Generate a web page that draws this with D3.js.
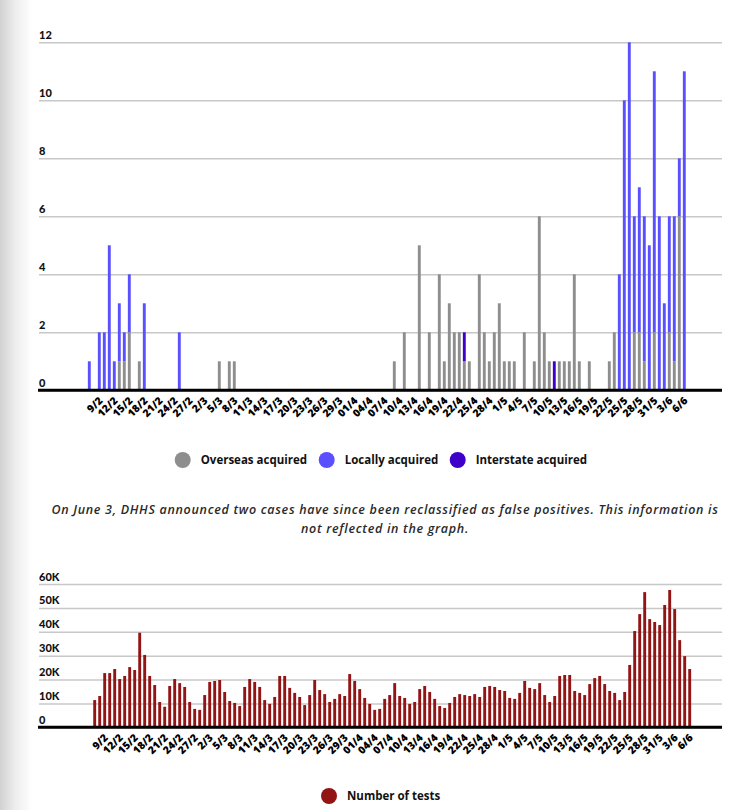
<!DOCTYPE html>
<html>
<head>
<meta charset="utf-8">
<script src="https://cdn.jsdelivr.net/npm/d3@7/dist/d3.min.js"></script>
<style>
  html, body { margin: 0; padding: 0; background: #fff; }
  svg { display: block; }
</style>
</head>
<body>
<svg id="chart" width="733" height="810"></svg>
<script>
const dates = [
  "7/2","8/2","9/2","10/2","11/2","12/2","13/2","14/2","15/2","16/2","17/2","18/2","19/2","20/2","21/2","22/2","23/2","24/2","25/2","26/2","27/2","28/2",
  "1/3","2/3","3/3","4/3","5/3","6/3","7/3","8/3","9/3","10/3","11/3","12/3","13/3","14/3","15/3","16/3","17/3","18/3","19/3","20/3","21/3","22/3","23/3","24/3","25/3","26/3","27/3","28/3","29/3","30/3","31/3",
  "01/4","02/4","03/4","04/4","05/4","06/4","07/4","08/4","09/4","10/4","11/4","12/4","13/4","14/4","15/4","16/4","17/4","18/4","19/4","20/4","21/4","22/4","23/4","24/4","25/4","26/4","27/4","28/4","29/4","30/4",
  "1/5","2/5","3/5","4/5","5/5","6/5","7/5","8/5","9/5","10/5","11/5","12/5","13/5","14/5","15/5","16/5","17/5","18/5","19/5","20/5","21/5","22/5","23/5","24/5","25/5","26/5","27/5","28/5","29/5","30/5","31/5",
  "1/6","2/6","3/6","4/6","5/6","6/6"
];

// cases by day (index aligned with dates)
const overseas = [
  0,0,0,0,0,0,1,1,2,0,1,0,0,0,0,0,0,0,0,0,0,0,
  0,0,0,0,1,0,1,1,0,0,0,0,0,0,0,0,0,0,0,0,0,0,0,0,0,0,0,0,0,0,0,
  0,0,0,0,0,0,0,0,1,0,2,0,0,5,0,2,0,4,1,3,2,2,1,1,0,4,2,1,2,3,
  1,1,1,0,2,0,1,6,2,1,0,1,1,1,4,1,0,1,0,0,0,1,2,0,0,0,2,2,1,0,2,
  0,0,2,1,6,0
];
const locally = [
  1,0,2,2,5,1,2,1,2,0,0,3,0,0,0,0,0,0,2,0,0,0,
  0,0,0,0,0,0,0,0,0,0,0,0,0,0,0,0,0,0,0,0,0,0,0,0,0,0,0,0,0,0,0,
  0,0,0,0,0,0,0,0,0,0,0,0,0,0,0,0,0,0,0,0,0,0,0,0,0,0,0,0,0,0,
  0,0,0,0,0,0,0,0,0,0,0,0,0,0,0,0,0,0,0,0,0,0,0,4,10,12,4,5,5,5,9,
  6,3,4,5,2,11
];
const interstate = [
  0,0,0,0,0,0,0,0,0,0,0,0,0,0,0,0,0,0,0,0,0,0,
  0,0,0,0,0,0,0,0,0,0,0,0,0,0,0,0,0,0,0,0,0,0,0,0,0,0,0,0,0,0,0,
  0,0,0,0,0,0,0,0,0,0,0,0,0,0,0,0,0,0,0,0,0,0,1,0,0,0,0,0,0,0,
  0,0,0,0,0,0,0,0,0,0,1,0,0,0,0,0,0,0,0,0,0,0,0,0,0,0,0,0,0,0,0,
  0,0,0,0,0,0
];
// number of tests by day
const tests = [
  11400,13100,22700,22700,24400,20200,21500,25200,24000,39600,30300,21500,17700,10600,8600,17300,20200,18500,16900,10600,7700,7300,
  13500,19000,19400,19800,14800,11000,10200,8900,16900,20200,19000,16900,11400,9800,12700,21500,21500,16500,14400,12700,9300,13500,19800,15600,13900,10600,11900,13900,13100,22300,19400,
  16000,12300,9800,7300,7700,11900,13500,18500,13100,12300,9800,10600,16000,17300,14800,11900,8900,8100,10200,12700,13900,13500,13100,13900,12700,16900,17300,16900,15600,15200,
  12300,11900,14400,19400,16500,16000,18500,13500,10600,13100,21500,21900,21900,15200,14400,13500,18100,20600,21500,18100,15200,14400,11400,14800,26100,40300,47400,56600,45300,
  44100,42800,51200,57500,49500,36500,29800,24400
];

const caseTicks = [0, 2, 4, 6, 8, 10, 12];
const testTicks = [0, 10000, 20000, 30000, 40000, 50000, 60000];
const testTickLabels = ["0", "10K", "20K", "30K", "40K", "50K", "60K"];
const seriesNames = ["Overseas acquired", "Locally acquired", "Interstate acquired"];
const seriesColors = ["#8e8e8e", "#5b50ff", "#3f00c9"];
const testsName = "Number of tests";
const testsColor = "#921414";
const note = [
  "On June 3, DHHS announced two cases have since been reclassified as false positives. This information is",
  "not reflected in the graph."
];

const OPEN = "'Open Sans', sans-serif";
const LATO = "Lato, sans-serif";
const svg = d3.select("#chart");

// left page shading
const defs = svg.append("defs");
const grad = defs.append("linearGradient").attr("id", "shade").attr("x1", "0").attr("x2", "1").attr("y1", "0").attr("y2", "0");
grad.append("stop").attr("offset", "0").attr("stop-color", "#d2d2d2");
grad.append("stop").attr("offset", "0.5").attr("stop-color", "#eeeeee");
grad.append("stop").attr("offset", "1").attr("stop-color", "#ffffff");
svg.append("rect").attr("x", 0).attr("y", 0).attr("width", 32).attr("height", 810).attr("fill", "url(#shade)");

const tickEvery = 3, tickStart = 2;
const tickDates = dates.filter((d, i) => i >= tickStart && (i - tickStart) % tickEvery === 0);

function drawPanel(cfg) {
  const g = svg.append("g");
  const x = d3.scaleBand().domain(dates).range(cfg.xRange).paddingInner(0.42).paddingOuter(0.21);
  const y = d3.scaleLinear().domain(cfg.yDomain).range(cfg.yRange);

  // grid
  const yAxis = d3.axisLeft(y).tickValues(cfg.yTicks).tickSize(-(722 - 39)).tickFormat("");
  const ga = g.append("g").attr("transform", "translate(39,0)").call(yAxis);
  ga.select(".domain").remove();
  ga.selectAll(".tick line").attr("stroke", "#c8c8c8").attr("stroke-width", 1.5);
  // y labels above gridlines
  g.selectAll(".ylab").data(cfg.yTicks).join("text")
    .attr("x", 39).attr("y", d => y(d) - 3.5)
    .style("font-family", LATO)
    .attr("font-size", 11).attr("font-weight", 900).attr("fill", "#111")
    .text((d, i) => cfg.yLabels[i]);

  cfg.drawBars(g, x, y);

  // x axis
  g.append("line").attr("x1", 38).attr("x2", 722).attr("y1", y(0)).attr("y2", y(0))
    .attr("stroke", "#000").attr("stroke-width", 3);
  const xAxis = d3.axisBottom(x).tickValues(tickDates).tickSize(0).tickPadding(0);
  const gx = g.append("g").attr("transform", `translate(0,${y(0)})`).call(xAxis);
  gx.attr("font-family", null).attr("font-size", null);
  gx.select(".domain").remove();
  gx.selectAll(".tick text")
    .style("font-family", OPEN)
    .style("font-size", "10.5px").style("font-weight", 800).attr("fill", "#000")
    .attr("text-anchor", "end")
    .attr("dy", null).attr("y", 0)
    .attr("transform", `translate(4,${cfg.labelDy}) rotate(-45)`);
}

// top: cases
const caseRows = dates.map((d, i) => ({ date: d, overseas: overseas[i], locally: locally[i], interstate: interstate[i] }));
const stack = d3.stack().keys(["overseas", "locally", "interstate"])(caseRows);

drawPanel({
  xRange: [86.8, 686.8],
  yDomain: [0, 12], yRange: [390.3, 42.3],
  yTicks: caseTicks, yLabels: caseTicks.map(String),
  labelDy: 11,
  drawBars(g, x, y) {
    stack.forEach((layer, k) => {
      g.append("g").attr("fill", seriesColors[k]).selectAll("rect")
        .data(layer.filter(d => d[1] - d[0] > 0)).join("rect")
        .attr("x", d => x(d.data.date)).attr("width", x.bandwidth())
        .attr("y", d => y(d[1])).attr("height", d => y(d[0]) - y(d[1]));
    });
  }
});

// top legend
const legendX = [182.7, 326.7, 457.7];
seriesNames.forEach((name, k) => {
  svg.append("circle").attr("cx", legendX[k]).attr("cy", 460).attr("r", 8).attr("fill", seriesColors[k]);
  svg.append("text").attr("x", legendX[k] + 18).attr("y", 464)
    .style("font-family", OPEN)
    .attr("font-size", 11.5).attr("font-weight", 700).attr("fill", "#111").text(name);
});

// note
note.forEach((line, i) => {
  svg.append("text").attr("x", 385).attr("y", 514 + i * 19).attr("text-anchor", "middle")
    .style("font-family", OPEN).style("letter-spacing", "0.7px")
    .attr("font-size", 12.5).attr("font-style", "italic").attr("font-weight", 600).attr("fill", "#2a2a2a")
    .text(line);
});

// bottom: tests
drawPanel({
  xRange: [92.2, 692.2],
  yDomain: [0, 60000], yRange: [727.3, 584],
  yTicks: testTicks, yLabels: testTickLabels,
  labelDy: 11,
  drawBars(g, x, y) {
    g.append("g").attr("fill", testsColor).selectAll("rect")
      .data(dates.map((d, i) => ({ date: d, v: tests[i] }))).join("rect")
      .attr("x", d => x(d.date)).attr("width", x.bandwidth())
      .attr("y", d => y(d.v)).attr("height", d => y(0) - y(d.v));
  }
});

svg.append("circle").attr("cx", 329).attr("cy", 796).attr("r", 8).attr("fill", testsColor);
svg.append("text").attr("x", 347).attr("y", 800)
  .style("font-family", OPEN)
  .attr("font-size", 11.5).attr("font-weight", 700).attr("fill", "#111").text(testsName);
</script>
</body>
</html>
